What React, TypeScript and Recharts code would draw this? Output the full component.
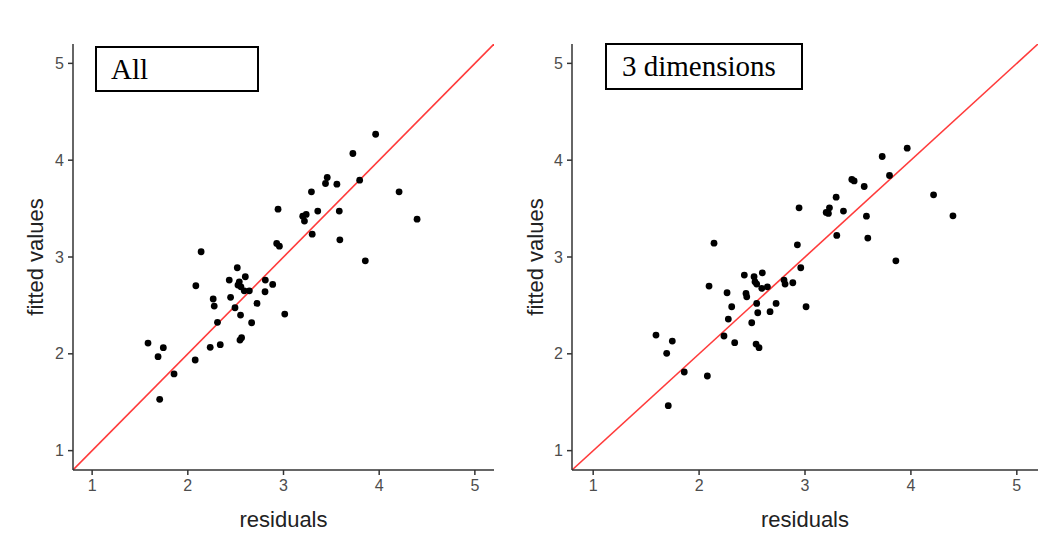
import React from 'react';
import { ScatterChart, Scatter, XAxis, YAxis, ReferenceLine, Label } from 'recharts';

// Panel "All"
const allResiduals = [
  3.963, 3.725, 3.457, 3.439, 3.558, 3.796, 3.292, 4.208, 2.943, 3.358, 3.583,
  3.201, 3.237, 3.219, 4.396, 3.300, 3.589, 2.929, 2.957, 2.139, 3.855,
  2.517, 2.433, 2.538, 2.524, 2.555, 2.601, 2.590, 2.643, 2.084, 2.810, 2.887,
  2.807, 2.265, 2.276, 2.447, 2.723, 2.493, 3.013, 2.551, 2.310, 2.667, 2.562,
  2.545, 2.234, 2.339, 1.584, 1.744, 1.689, 2.077, 1.856, 1.706,
];
const allFitted = [
  4.268, 4.069, 3.821, 3.759, 3.752, 3.794, 3.673, 3.673, 3.494, 3.474, 3.474,
  3.422, 3.440, 3.371, 3.391, 3.236, 3.177, 3.140, 3.112, 3.054, 2.961,
  2.889, 2.762, 2.744, 2.710, 2.692, 2.796, 2.651, 2.651, 2.703, 2.762, 2.717,
  2.641, 2.566, 2.493, 2.583, 2.521, 2.476, 2.411, 2.400, 2.325, 2.321, 2.166,
  2.142, 2.067, 2.094, 2.111, 2.063, 1.970, 1.936, 1.792, 1.530,
];

// Panel "3 dimensions"
const dimResiduals = [
  3.965, 3.729, 3.798, 3.442, 3.464, 3.559, 3.294, 4.214, 2.944, 3.231, 3.200,
  3.221, 3.363, 3.580, 4.397, 3.300, 3.593, 2.928, 2.141, 3.858, 2.960,
  2.427, 2.597, 2.519, 2.528, 2.544, 2.592, 2.645, 2.802, 2.812, 2.885, 2.094,
  2.264, 2.443, 2.450, 2.544, 2.727, 2.308, 3.010, 2.554, 2.670, 2.276, 2.497,
  2.235, 2.336, 2.538, 2.566, 1.593, 1.747, 1.694, 1.860, 2.078, 1.709,
];
const dimFitted = [
  4.124, 4.038, 3.842, 3.801, 3.786, 3.728, 3.618, 3.642, 3.508, 3.508, 3.460,
  3.450, 3.474, 3.422, 3.425, 3.223, 3.195, 3.126, 3.143, 2.961, 2.889,
  2.813, 2.837, 2.796, 2.744, 2.720, 2.676, 2.692, 2.762, 2.720, 2.734, 2.700,
  2.631, 2.624, 2.589, 2.521, 2.521, 2.486, 2.486, 2.424, 2.435, 2.359, 2.321,
  2.184, 2.115, 2.101, 2.063, 2.194, 2.132, 2.005, 1.812, 1.771, 1.464,
];

const axisTicks = [1, 2, 3, 4, 5];
const axisDomain = [0.8, 5.2];
const panelTitles = ['All', '3 dimensions'];
const xTitle = 'residuals';
const yTitle = 'fitted values';

const sans = '"Liberation Sans", Arial, Helvetica, sans-serif';
const serif = '"Liberation Serif", "Times New Roman", serif';

const Dot = (p: any) => <circle cx={p.cx} cy={p.cy} r={3.4} fill="#000" />;

const tickStyle = { fontSize: 16, fill: '#4d4d4d', fontFamily: sans };

const XTitle = (props: any) => {
  const vb = props.viewBox;
  return (
    <text x={vb.x + vb.width / 2} y={vb.y + 57} textAnchor="middle" fontSize={22} fontFamily={sans} fill="#222">
      {xTitle}
    </text>
  );
};

const makeYTitle = (offsetX: number) => (props: any) => {
  const vb = props.viewBox;
  const cx = offsetX;
  const cy = vb.y + vb.height / 2;
  return (
    <text x={cx} y={cy} transform={`rotate(-90 ${cx} ${cy})`} textAnchor="middle" dominantBaseline="central" fontSize={22} fontFamily={sans} fill="#222">
      {yTitle}
    </text>
  );
};

function Panel({ xs, ys, width, yAxisWidth, rightMargin, titleX }: any) {
  const data = xs.map((x: number, i: number) => ({ x, y: ys[i] }));
  return (
    <ScatterChart width={width} height={548} margin={{ top: 44, right: rightMargin, left: 0, bottom: 38 }}>
      <XAxis
        type="number"
        dataKey="x"
        domain={axisDomain}
        ticks={axisTicks}
        allowDataOverflow
        stroke="#333"
        strokeWidth={1.5}
        tickSize={5}
        tickMargin={5}
        tick={tickStyle}
        tickLine={{ stroke: '#333', strokeWidth: 1.5 }}
        height={40}
        label={<Label content={XTitle} />}
      />
      <YAxis
        type="number"
        dataKey="y"
        domain={axisDomain}
        ticks={axisTicks}
        allowDataOverflow
        stroke="#333"
        strokeWidth={1.5}
        tickSize={5}
        tickMargin={4}
        tick={tickStyle}
        tickLine={{ stroke: '#333', strokeWidth: 1.5 }}
        width={yAxisWidth}
        label={<Label content={makeYTitle(titleX)} />}
      />
      <ReferenceLine
        segment={[{ x: axisDomain[0], y: axisDomain[0] }, { x: axisDomain[1], y: axisDomain[1] }]}
        stroke="#ff3b3b"
        strokeWidth={1.6}
        ifOverflow="hidden"
      />
      <Scatter data={data} shape={Dot} isAnimationActive={false} />
    </ScatterChart>
  );
}

const boxStyle = (left: number, top: number, w: number, h: number, textLeft: number): React.CSSProperties => ({
  position: 'absolute',
  left,
  top,
  width: w,
  height: h,
  boxSizing: 'border-box',
  border: '2px solid #000',
  background: '#fff',
  fontFamily: serif,
  fontSize: 29,
  lineHeight: `${h - 4}px`,
  paddingLeft: textLeft,
  color: '#000',
  whiteSpace: 'nowrap',
});

export default function App() {
  return (
    <div style={{ position: 'absolute', left: 0, top: 0, width: 1063, height: 548, background: '#fff', overflow: 'hidden' }}>
      <div style={{ position: 'absolute', left: 0, top: 0 }}>
        <Panel xs={allResiduals} ys={allFitted} width={520} yAxisWidth={73} rightMargin={26} titleX={35} />
      </div>
      <div style={{ position: 'absolute', left: 500, top: 0 }}>
        <Panel xs={dimResiduals} ys={dimFitted} width={563} yAxisWidth={72} rightMargin={25} titleX={35} />
      </div>
      <div style={boxStyle(95, 46, 164, 46, 14)}>{panelTitles[0]}</div>
      <div style={boxStyle(605, 43, 198, 47, 15)}>{panelTitles[1]}</div>
    </div>
  );
}
